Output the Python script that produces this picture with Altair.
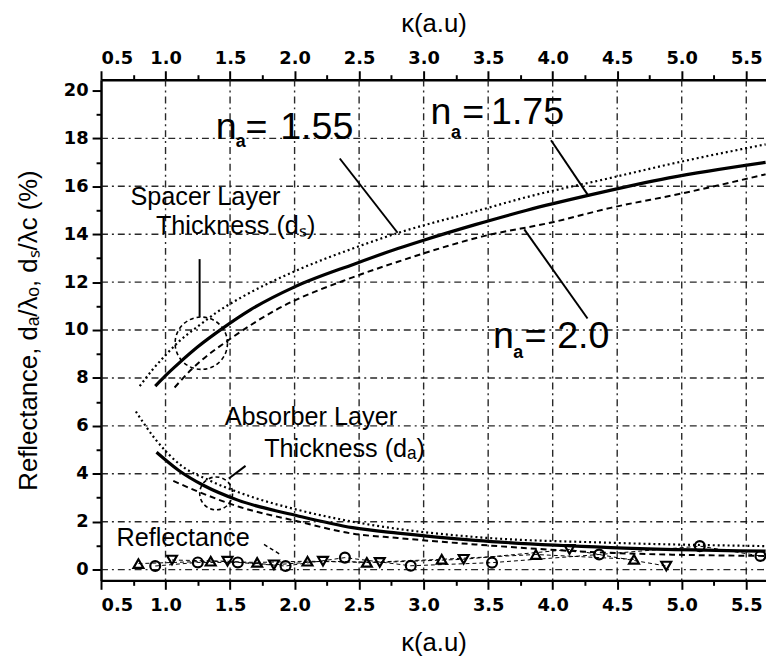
import altair as alt
import pandas as pd

# ---------------- data ----------------
# Spacer layer thickness  d_s / lambda_c  (%)
sp155_k = [0.80, 0.90, 1.00, 1.10, 1.25, 1.40, 1.60, 2.00, 2.45, 2.80, 3.40, 3.80, 4.45, 4.93, 5.65]
sp155_v = [7.66, 8.35, 8.95, 9.50, 10.15, 10.75, 11.40, 12.45, 13.40, 14.05, 14.95, 15.55, 16.35, 16.95, 17.75]
sp175_k = [0.92, 1.00, 1.10, 1.25, 1.45, 1.66, 2.00, 2.46, 2.80, 3.00, 3.40, 3.80, 4.30, 4.90, 5.65]
sp175_v = [7.66, 8.10, 8.60, 9.30, 10.10, 10.85, 11.80, 12.75, 13.40, 13.75, 14.40, 15.00, 15.65, 16.35, 17.00]
sp200_k = [1.07, 1.20, 1.52, 1.86, 2.45, 2.80, 3.00, 3.45, 4.00, 4.45, 5.00, 5.65]
sp200_v = [7.60, 8.35, 9.70, 10.85, 12.20, 12.85, 13.20, 13.90, 14.50, 15.10, 15.70, 16.50]

# Absorber layer thickness  d_a / lambda_o  (%)
ab155_k = [0.77, 0.92, 1.12, 1.35, 1.66, 2.02, 2.45, 2.80, 3.40, 4.45, 5.65]
ab155_v = [6.60, 5.45, 4.35, 3.70, 3.05, 2.50, 2.00, 1.70, 1.36, 1.12, 0.98]
ab175_k = [0.93, 1.10, 1.30, 1.56, 2.02, 2.45, 2.80, 3.40, 4.45, 5.65]
ab175_v = [4.90, 4.15, 3.50, 2.90, 2.25, 1.75, 1.52, 1.22, 0.92, 0.77]
ab200_k = [1.06, 1.25, 1.56, 2.02, 2.45, 2.80, 3.40, 4.45, 5.65]
ab200_v = [3.70, 3.26, 2.64, 2.02, 1.50, 1.32, 1.05, 0.70, 0.57]

# Reflectance (%) markers
r_up_k = [0.79, 1.35, 1.71, 2.10, 2.56, 3.14, 3.87, 4.63]
r_up_v = [0.25, 0.35, 0.30, 0.35, 0.30, 0.43, 0.63, 0.43]
r_dn_k = [1.05, 1.48, 1.84, 2.22, 2.66, 3.31, 4.13, 4.88]
r_dn_v = [0.40, 0.35, 0.20, 0.35, 0.30, 0.43, 0.84, 0.15]
r_ci_k = [0.92, 1.25, 1.56, 1.93, 2.39, 2.90, 3.53, 4.36, 5.14, 5.61]
r_ci_v = [0.15, 0.30, 0.30, 0.15, 0.50, 0.16, 0.29, 0.63, 0.98, 0.57]

# axis ticks and grid
x_ticks = [0.5, 0.75, 1.0, 1.25, 1.5, 1.75, 2.0, 2.25, 2.5, 2.75, 3.0, 3.25, 3.5,
           3.75, 4.0, 4.25, 4.5, 4.75, 5.0, 5.25, 5.5]
y_ticks = [0, 1, 2, 3, 4, 5, 6, 7, 8, 9, 10, 11, 12, 13, 14, 15, 16, 17, 18, 19, 20]
x_grid = [1.0, 1.5, 2.0, 2.5, 3.0, 3.5, 4.0, 4.5, 5.0, 5.5]
y_grid = [0, 2, 4, 6, 8, 10, 12, 14, 16, 18]

# annotation texts
ann_text = ["Spacer Layer", "Thickness (dₛ)", "Absorber Layer", "Thickness (dₐ)", "Reflectance"]
ann_k = [1.309, 1.543, 2.126, 2.387, 1.136]
ann_v = [15.2, 14.0, 6.05, 4.71, 0.99]

n_text = ["n", "=", "1.55", "n", "=", "1.75", "n", "=", "2.0"]
n_k = [1.39, 1.62, 1.888, 3.054, 3.299, 3.522, 3.537, 3.782, 4.035]
n_v = [17.96, 17.96, 17.96, 18.61, 18.61, 18.61, 9.24, 9.24, 9.24]
sub_k = [1.545, 3.212, 3.695]
sub_v = [17.62, 18.00, 8.85]

# leader lines
lead_k = [2.35, 3.987, 3.78, 1.264, 1.62]
lead_v = [17.16, 17.92, 14.2, 12.96, 4.33]
lead_k2 = [2.798, 4.28, 4.27, 1.264, 1.49]
lead_v2 = [14.06, 15.58, 10.48, 10.55, 3.80]
refl_lead_k = [1.763]
refl_lead_v = [1.05]
refl_lead_k2 = [1.89]
refl_lead_v2 = [0.63]

# marking circles
circ_k = [1.277, 1.392]
circ_v = [9.45, 3.18]
circ_size = [2800, 1100]

# ---------------- tables ----------------
def curve(ks, vs, n, part):
    return pd.DataFrame({"k": ks, "v": vs, "n": n, "part": part})

curves = pd.concat([
    curve(sp155_k, sp155_v, "1.55", "spacer"),
    curve(sp175_k, sp175_v, "1.75", "spacer"),
    curve(sp200_k, sp200_v, "2.0", "spacer"),
    curve(ab155_k, ab155_v, "1.55", "absorber"),
    curve(ab175_k, ab175_v, "1.75", "absorber"),
    curve(ab200_k, ab200_v, "2.0", "absorber"),
], ignore_index=True)

refl = pd.concat([
    pd.DataFrame({"k": r_up_k, "v": r_up_v, "s": "up"}),
    pd.DataFrame({"k": r_dn_k, "v": r_dn_v, "s": "down"}),
    pd.DataFrame({"k": r_ci_k, "v": r_ci_v, "s": "circle"}),
], ignore_index=True)

ann = pd.DataFrame({"t": ann_text, "k": ann_k, "v": ann_v})
nlab = pd.DataFrame({"t": n_text, "k": n_k, "v": n_v})
nsub = pd.DataFrame({"t": ["a"] * 3, "k": sub_k, "v": sub_v})
leads = pd.DataFrame({"k": lead_k, "v": lead_v, "k2": lead_k2, "v2": lead_v2})
rlead = pd.DataFrame({"k": refl_lead_k, "v": refl_lead_v, "k2": refl_lead_k2, "v2": refl_lead_v2})
circs = pd.DataFrame({"k": circ_k, "v": circ_v, "size": circ_size})
xg = pd.DataFrame({"k": x_grid})
yg = pd.DataFrame({"v": y_grid})

# ---------------- scales / axes ----------------
xs = alt.Scale(domain=[0.5, 5.653], nice=False, zero=False)
ys = alt.Scale(domain=[-0.45, 20.45], nice=False, zero=False)

x_minor = "abs(datum.value*2 - round(datum.value*2)) > 0.01"
y_minor = "datum.value % 2 != 0"

common = dict(
    domainColor="black", domainWidth=2.5,
    tickColor="black", tickWidth=2,
    labelFont="DejaVu Sans", labelFontWeight="bold", labelFontSize=18, labelColor="black",
    titleFont="Liberation Sans", titleFontWeight="normal", titleFontSize=26, titleColor="black",
    grid=False,
)

x_bottom = alt.Axis(
    orient="bottom", values=x_ticks, title="κ(a.u)",
    labelExpr=f"{x_minor} ? '' : format(datum.value, '.1f')",
    tickSize={"condition": {"test": x_minor, "value": 5}, "value": 9},
    labelPadding=7, titlePadding=16, **common)

x_top = alt.Axis(
    orient="top", values=x_ticks, title="κ(a.u)",
    labelExpr=f"{x_minor} ? '' : format(datum.value, '.1f')",
    tickSize={"condition": {"test": x_minor, "value": 5}, "value": 9},
    labelPadding=3, titlePadding=14, **common)

y_left = alt.Axis(
    orient="left", values=y_ticks, title="Reflectance, dₐ/λₒ, dₛ/λc (%)",
    labelExpr=f"{y_minor} ? '' : format(datum.value, 'd')",
    tickSize={"condition": {"test": y_minor, "value": 5}, "value": 9},
    labelPadding=4, titlePadding=22, **common)

def X(field="k:Q", axis=None):
    return alt.X(field, scale=xs, axis=axis)

def Y(field="v:Q", axis=None):
    return alt.Y(field, scale=ys, axis=axis)

# ---------------- layers ----------------
grid_style = dict(color="#111111", strokeWidth=1.4, strokeDash=[7, 4, 2, 4], opacity=0.9)
vgrid = alt.Chart(xg).mark_rule(**grid_style).encode(x=X(), y=alt.value(0), y2=alt.value(506))
hgrid = alt.Chart(yg).mark_rule(**grid_style).encode(y=Y(), x=alt.value(0), x2=alt.value(672))

solid = alt.Chart(curves[curves.n == "1.75"]).mark_line(
    color="black", strokeWidth=3.2, interpolate="monotone", clip=True
).encode(x=X(axis=x_bottom), y=Y(axis=y_left), detail="part:N")

dotted = alt.Chart(curves[curves.n == "1.55"]).mark_line(
    color="black", strokeWidth=2.2, strokeDash=[2, 3], interpolate="monotone", clip=True
).encode(x=X(), y=Y(), detail="part:N")

dashed = alt.Chart(curves[curves.n == "2.0"]).mark_line(
    color="black", strokeWidth=2, strokeDash=[6, 4], interpolate="monotone", clip=True
).encode(x=X(), y=Y(), detail="part:N")

top_axis = alt.Chart(refl).mark_point(opacity=0).encode(x=X(axis=x_top), y=Y())

refl_lines = alt.Chart(refl).mark_line(
    color="black", strokeWidth=1, strokeDash=[4, 3], clip=True
).encode(x=X(), y=Y(), detail="s:N")

refl_pts = alt.Chart(refl).mark_point(
    filled=False, color="black", strokeWidth=2.2, size=100, clip=True, opacity=1
).encode(x=X(), y=Y(),
         shape=alt.Shape("s:N",
                         scale=alt.Scale(domain=["up", "down", "circle"],
                                         range=["triangle-up", "triangle-down", "circle"]),
                         legend=None))

circles = alt.Chart(circs).mark_point(
    filled=False, shape="circle", color="black", strokeWidth=1.6, strokeDash=[4, 3], opacity=1
).encode(x=X(), y=Y(), size=alt.Size("size:Q", scale=None, legend=None))

leaders = alt.Chart(leads).mark_rule(color="black", strokeWidth=2).encode(
    x=X(), y=Y(), x2="k2:Q", y2="v2:Q")

rleader = alt.Chart(rlead).mark_rule(color="black", strokeWidth=1.5, strokeDash=[4, 3]).encode(
    x=X(), y=Y(), x2="k2:Q", y2="v2:Q")

ann_layer = alt.Chart(ann).mark_text(
    font="Liberation Sans", fontSize=25.5, color="black", align="center", baseline="alphabetic"
).encode(x=X(), y=Y(), text="t:N")

n_layer = alt.Chart(nlab).mark_text(
    font="Liberation Sans", fontSize=38, color="black", align="left", baseline="alphabetic"
).encode(x=X(), y=Y(), text="t:N")

sub_layer = alt.Chart(nsub).mark_text(
    font="Liberation Sans", fontSize=18, fontWeight="bold", color="black",
    align="left", baseline="alphabetic"
).encode(x=X(), y=Y(), text="t:N")

chart = alt.layer(
    solid, top_axis, vgrid, hgrid, dotted, dashed, refl_lines, refl_pts, circles, leaders, rleader,
    ann_layer, n_layer, sub_layer
).resolve_axis(x="independent", y="independent").properties(
    width=672, height=506,
    autosize=alt.AutoSizeParams(type="none"),
    padding={"left": 94, "top": 69, "right": 0, "bottom": 74},
    background="white",
).configure_view(stroke=None)

chart.save("out.html", embed_options={"renderer": "svg", "actions": False})
